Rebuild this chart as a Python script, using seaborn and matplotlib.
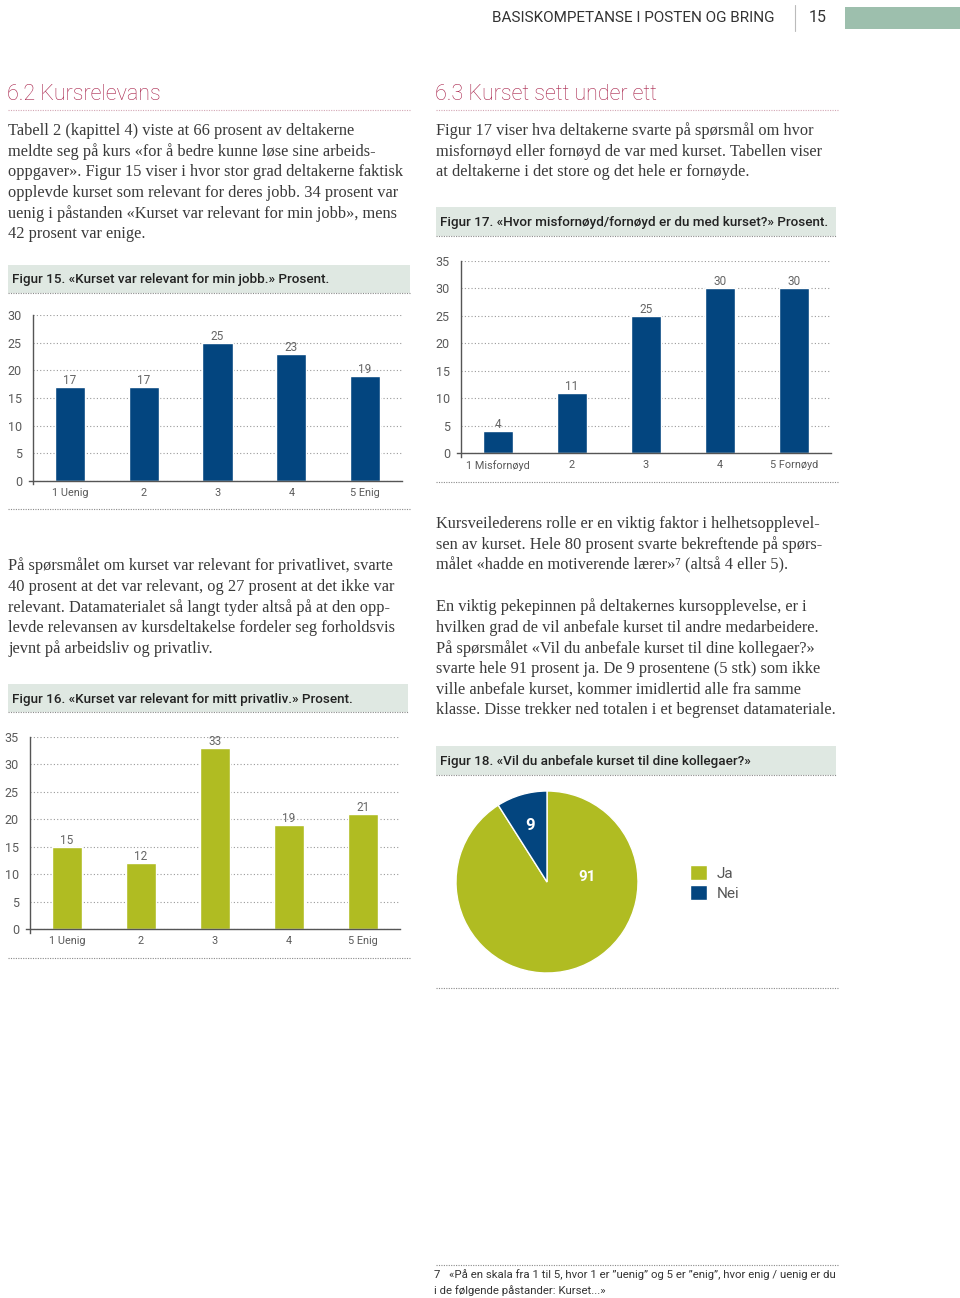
import matplotlib
matplotlib.use("Agg")
import matplotlib.pyplot as plt
from matplotlib.lines import Line2D
from matplotlib.patches import Rectangle
import seaborn as sns
import pandas as pd
import numpy as np

# --- data ---
fig15_cats = ["1 Uenig", "2", "3", "4", "5 Enig"]
fig15_vals = [17, 17, 25, 23, 19]

fig16_cats = ["1 Uenig", "2", "3", "4", "5 Enig"]
fig16_vals = [15, 12, 33, 19, 21]

fig17_cats = ["1 Misfornøyd", "2", "3", "4", "5 Fornøyd"]
fig17_vals = [4, 11, 25, 30, 30]

fig18_labels = ["Ja", "Nei"]
fig18_vals = [91, 9]

NAVY = "#03457f"
GREEN = "#b0bc22"
CRIMSON = "#a8224a"
BOXBG = "#dfe8e2"
TXT = "#333333"

sns.set_style("white")
plt.rcParams["font.family"] = ["Roboto", "DejaVu Sans"]

W, H = 960, 1298
fig = plt.figure(figsize=(W / 100, H / 100), dpi=100)


def box(x0, y0, x1, y1):
    return [x0 / W, 1 - y1 / H, (x1 - x0) / W, (y1 - y0) / H]


def ftext(x, y, s, **kw):
    kw.setdefault("va", "center")
    kw.setdefault("ha", "left")
    fig.text(x / W, 1 - y / H, s, **kw)


def dotted(x0, x1, y, color="#8a8a8a"):
    fig.add_artist(Line2D([x0 / W, x1 / W], [1 - y / H, 1 - y / H],
                          transform=fig.transFigure, color=color, lw=0.8,
                          linestyle=(0, (1, 1.2))))


def caption(x0, y0, x1, y1, s):
    fig.add_artist(Rectangle((x0 / W, 1 - y1 / H), (x1 - x0) / W, (y1 - y0) / H,
                             transform=fig.transFigure, facecolor=BOXBG,
                             edgecolor="none"))
    dotted(x0, x1, y1)
    ftext(x0 + 4, (y0 + y1) / 2 + 1, s, fontsize=9.7, color="#222222",
          fontweight="medium")


def body(x, y0, lines, step=20.7):
    for i, ln in enumerate(lines):
        ftext(x, y0 + i * step, ln, fontsize=11.8, color="#3a3a3a",
              family=["Liberation Serif", "DejaVu Serif"])


def bar_chart(rect, cats, vals, color, ymax):
    ax = fig.add_axes(rect)
    df = pd.DataFrame({"cat": cats, "val": vals})
    sns.barplot(data=df, x="cat", y="val", color=color, width=0.41,
                saturation=1, ax=ax)
    ax.set_xlim(-0.5, 4.5)
    ax.set_ylim(0, ymax)
    ax.set_yticks(range(0, ymax + 1, 5))
    ax.yaxis.grid(True, color="#9a9a9a", lw=0.8, linestyle=(0, (1, 2)))
    ax.set_axisbelow(True)
    ax.set_xlabel("")
    ax.set_ylabel("")
    for s in ["top", "right"]:
        ax.spines[s].set_visible(False)
    for s in ["left", "bottom"]:
        ax.spines[s].set_color("#555555")
        ax.spines[s].set_linewidth(1)
    ax.spines["left"].set_bounds(-0.02 * ymax, ymax)
    ax.spines["bottom"].set_bounds(-0.55, 4.5)
    ax.tick_params(axis="y", length=0, pad=8, labelsize=9, labelcolor="#5a5a5a")
    ax.tick_params(axis="x", length=0, pad=5, labelsize=7.8, labelcolor="#5a5a5a")
    ax.bar_label(ax.containers[0], fmt="%d", padding=0, fontsize=8.5,
                 color="#666666")
    return ax


# --- header ---
ftext(775, 18, "BASISKOMPETANSE I POSTEN OG BRING", ha="right", fontsize=11,
      color=TXT)
fig.add_artist(Line2D([795 / W, 795 / W], [1 - 5 / H, 1 - 31 / H],
                      transform=fig.transFigure, color="#bbbbbb", lw=0.8))
ftext(818, 17, "15", ha="center", fontsize=11.5, color=TXT)
fig.add_artist(Rectangle((845 / W, 1 - 29 / H), 115 / W, 22 / H,
                         transform=fig.transFigure, facecolor="#9dbfad",
                         edgecolor="none"))

# --- headings ---
ftext(7, 94, "6.2 Kursrelevans", fontsize=15.5, color=CRIMSON, fontweight="light")
dotted(8, 410, 110, color="#d3a7b5")
ftext(435, 94, "6.3 Kurset sett under ett", fontsize=15.5, color=CRIMSON,
      fontweight="light")
dotted(436, 838, 110, color="#d3a7b5")

# --- text blocks ---
body(8, 131, [
    "Tabell 2 (kapittel 4) viste at 66 prosent av deltakerne",
    "meldte seg på kurs «for å bedre kunne løse sine arbeids-",
    "oppgaver». Figur 15 viser i hvor stor grad deltakerne faktisk",
    "opplevde kurset som relevant for deres jobb. 34 prosent var",
    "uenig i påstanden «Kurset var relevant for min jobb», mens",
    "42 prosent var enige.",
])
body(436, 131, [
    "Figur 17 viser hva deltakerne svarte på spørsmål om hvor",
    "misfornøyd eller fornøyd de var med kurset. Tabellen viser",
    "at deltakerne i det store og det hele er fornøyde.",
])
body(8, 566, [
    "På spørsmålet om kurset var relevant for privatlivet, svarte",
    "40 prosent at det var relevant, og 27 prosent at det ikke var",
    "relevant. Datamaterialet så langt tyder altså på at den opp-",
    "levde relevansen av kursdeltakelse fordeler seg forholdsvis",
    "jevnt på arbeidsliv og privatliv.",
])
body(436, 524, [
    "Kursveilederens rolle er en viktig faktor i helhetsopplevel-",
    "sen av kurset. Hele 80 prosent svarte bekreftende på spørs-",
    "målet «hadde en motiverende lærer»⁷ (altså 4 eller 5).",
])
body(436, 607, [
    "En viktig pekepinnen på deltakernes kursopplevelse, er i",
    "hvilken grad de vil anbefale kurset til andre medarbeidere.",
    "På spørsmålet «Vil du anbefale kurset til dine kollegaer?»",
    "svarte hele 91 prosent ja. De 9 prosentene (5 stk) som ikke",
    "ville anbefale kurset, kommer imidlertid alle fra samme",
    "klasse. Disse trekker ned totalen i et begrenset datamateriale.",
])

# --- Figur 15 ---
caption(8, 265, 410, 293, "Figur 15. «Kurset var relevant for min jobb.» Prosent.")
bar_chart(box(33, 315, 402, 481), fig15_cats, fig15_vals, NAVY, 30)
dotted(8, 410, 509)

# --- Figur 17 ---
caption(436, 207, 836, 236,
        "Figur 17. «Hvor misfornøyd/fornøyd er du med kurset?» Prosent.")
bar_chart(box(461, 261, 831, 453), fig17_cats, fig17_vals, NAVY, 35)
dotted(436, 838, 482)

# --- Figur 16 ---
caption(8, 684, 408, 712, "Figur 16. «Kurset var relevant for mitt privatliv.» Prosent.")
bar_chart(box(30, 737, 400, 929), fig16_cats, fig16_vals, GREEN, 35)
dotted(8, 410, 958)

# --- Figur 18 ---
caption(436, 746, 836, 775, "Figur 18. «Vil du anbefale kurset til dine kollegaer?»")
axp = fig.add_axes(box(456, 791, 638, 973))
wedges, _ = axp.pie(fig18_vals, colors=[GREEN, NAVY], startangle=90,
                    counterclock=False, radius=1)
axp.set_xlim(-1, 1)
axp.set_ylim(-1, 1)
axp.set_aspect("equal")
axp.axis("off")
w_nei = wedges[1]
mid = np.deg2rad((w_nei.theta1 + w_nei.theta2) / 2)
axp.text(0.65 * np.cos(mid), 0.65 * np.sin(mid), str(fig18_vals[1]),
         ha="center", va="center", color="white", fontsize=12,
         fontweight="bold")
axp.text(0.44, 0.055, str(fig18_vals[0]), ha="center", va="center",
         color="white", fontsize=11, fontweight="bold")
fig.legend(wedges, fig18_labels, loc="upper left",
           bbox_to_anchor=(676 / W, 1 - 851 / H), frameon=False,
           handlelength=1.15, handleheight=1.15, handletextpad=0.6,
           labelspacing=0.3, labelcolor="#555555", prop={"size": 11})
dotted(436, 838, 988)

# --- footnote ---
dotted(436, 838, 1265)
ftext(434, 1275, "7   «På en skala fra 1 til 5, hvor 1 er ”uenig” og 5 er ”enig”, hvor enig / uenig er du",
      fontsize=8.2, color=TXT)
ftext(434, 1291, "i de følgende påstander: Kurset...»", fontsize=8.2, color=TXT)

fig.savefig("out.png", dpi=100)
